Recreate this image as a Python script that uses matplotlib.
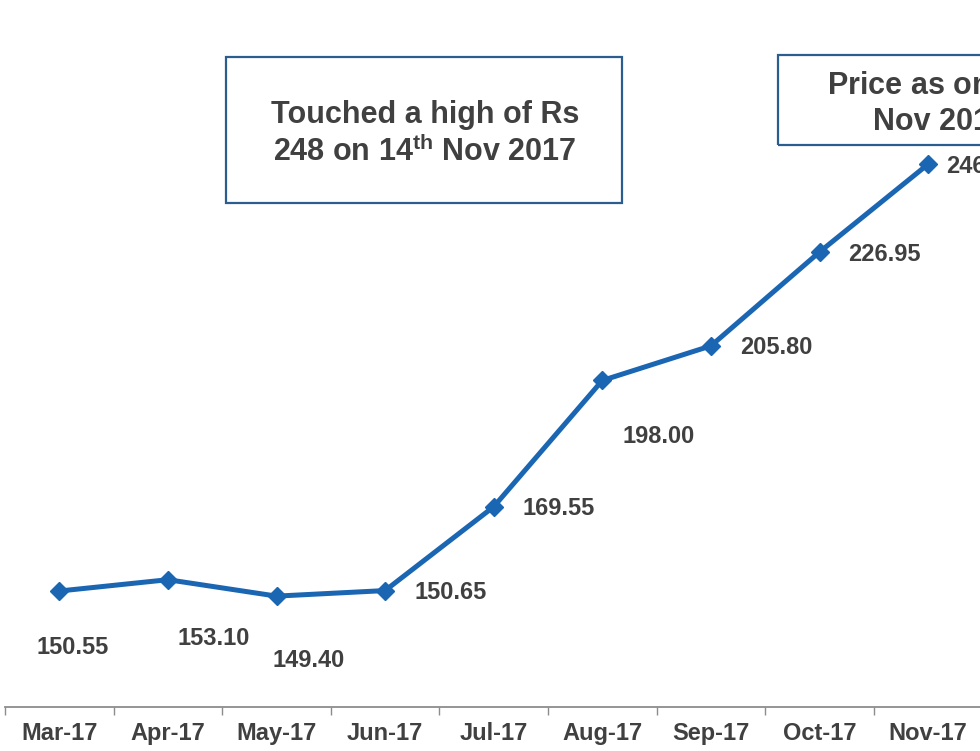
import matplotlib.pyplot as plt
from matplotlib.patches import Rectangle

plt.rcParams['font.family'] = ['Liberation Sans', 'DejaVu Sans']
plt.rcParams['font.weight'] = 'bold'
plt.rcParams['mathtext.fontset'] = 'custom'
plt.rcParams['mathtext.bf'] = 'Liberation Sans:bold'
plt.rcParams['mathtext.rm'] = 'Liberation Sans:bold'

months = ['Mar-17', 'Apr-17', 'May-17', 'Jun-17', 'Jul-17',
          'Aug-17', 'Sep-17', 'Oct-17', 'Nov-17']
price = [150.55, 153.10, 149.40, 150.65, 169.55, 198.00, 205.80, 226.95, 246.75]

# label offsets in pixels (dx, dy down) and alignment
offs = [(13, 56, 'center'), (46, 59, 'center'), (32, 64, 'center'),
        (29, 2, 'left'), (29, 2, 'left'), (56, 56, 'center'),
        (29, 2, 'left'), (29, 2, 'left'), (18, 2, 'left')]

txt = '#404040'
blue = '#1a66b3'

fig = plt.figure(figsize=(9.8, 7.51), dpi=100)
W, H = 980, 751
# axis spans 10 category slots, wider than the canvas (cut off on the right)
ax = fig.add_axes([5 / W, 1 - 707 / H, 1086 / W, 707 / H])
x = list(range(len(months)))
ax.plot(x, price, color=blue, lw=3.6, marker='D', ms=9, mec=blue, mfc=blue, zorder=3, clip_on=False)
ax.set_xlim(-0.5, 9.5)
ax.set_ylim(124.41, 283.75)

for i, v in enumerate(price):
    dx, dy, ha = offs[i]
    ax.annotate('%.2f' % v, (i, v), xytext=(dx * 0.72, -dy * 0.72), textcoords='offset points',
                ha=ha, va='center', fontsize=17, color=txt, fontweight='bold', annotation_clip=False)

for s in ['top', 'right', 'left']:
    ax.spines[s].set_visible(False)
ax.spines['bottom'].set_color('#8c8c8c')
ax.spines['bottom'].set_linewidth(1.3)
ax.set_yticks([])
ax.set_xticks(x)
ax.set_xticklabels(months, fontsize=17, color=txt, fontweight='bold')
ax.set_xticks([i - 0.5 for i in range(10)], minor=True)
ax.tick_params(axis='x', which='major', length=0, pad=11)
ax.tick_params(axis='x', which='minor', length=6, width=1, color='#8c8c8c')

# annotation boxes
box_c = '#2b5d8e'
fig.patches.append(Rectangle((226 / W, 1 - 203 / H), 396 / W, 146 / H, transform=fig.transFigure,
                             fill=False, ec=box_c, lw=1.6))
fig.text(425 / W, 1 - 115 / H, 'Touched a high of Rs', ha='center', va='center',
         fontsize=22, color=txt, fontweight='bold')
fig.text(425 / W, 1 - 152 / H, r'248 on 14$^{\mathbf{th}}$ Nov 2017', ha='center', va='center',
         fontsize=22, color=txt, fontweight='bold')

fig.patches.append(Rectangle((778 / W, 1 - 145 / H), 310 / W, 90 / H, transform=fig.transFigure,
                             fill=False, ec=box_c, lw=1.6))
fig.text(940 / W, 1 - 86 / H, r'Price as on 30$^{\mathbf{th}}$', ha='center', va='center',
         fontsize=22, color=txt, fontweight='bold')
fig.text(940 / W, 1 - 122 / H, 'Nov 2017', ha='center', va='center',
         fontsize=22, color=txt, fontweight='bold')

fig.savefig('out.png', dpi=100)
